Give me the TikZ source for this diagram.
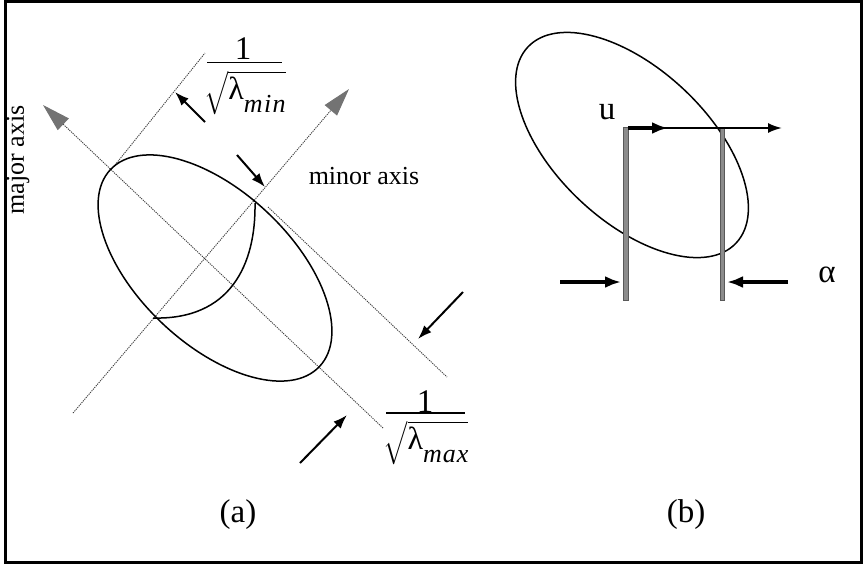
\documentclass[tikz,border=0pt]{standalone}
\usepackage{amsmath}
\usepackage{fontspec}
\setmainfont{Liberation Serif}
\usetikzlibrary{arrows.meta}

\newcommand{\lamsym}{\text{\fontsize{16}{16}\selectfont λ}}

\begin{document}
\begin{tikzpicture}[x=0.5pt,y=-0.5pt,font=\fontsize{13}{15}\selectfont,
  guide/.style={black!75,line width=0.45pt,dash pattern=on 0.6pt off 0.5pt},
  axisarrow/.style={guide,-{Triangle[length=14pt,width=8pt,color=black!55,fill=black!55]}},
  outline/.style={line width=0.75pt},
  dimarrow/.style={line width=1pt,-{Latex[length=7pt,width=5pt]}},
  pusharrow/.style={line width=1.8pt,-{Latex[length=8pt,width=6pt]}},
  wall/.style={fill=black!45,draw=black!65,line width=0.3pt},
  fracbar/.style={line width=0.8pt},
  biglabel/.style={font=\fontsize{16.5}{19}\selectfont}]
\useasboundingbox (0,0) rectangle (863,564);
\draw[line width=1.5pt] (5.5,1.5) rectangle (861.5,562.5);
% (a)
\coordinate (majtail) at (383,428);
\coordinate (majtip) at (43,105);
\coordinate (mintail) at (73,413);
\coordinate (mintip) at (349,89);
\coordinate (A) at (111,170);
\coordinate (B) at (255,203);
\coordinate (E) at (153,318);
\draw[axisarrow] (majtail) -- (majtip);
\draw[axisarrow] (mintail) -- (mintip);
\draw[guide] (A) -- (205,53);
\draw[guide] (268,207) -- (447,377);
\draw[outline,rotate around={-43.3:(215,268)}] (215,268) ellipse [x radius=143.6,y radius=76.4];
\draw[outline] (B) .. controls (256,265) and (230,320) .. (E);
\coordinate (d1s) at (205,122);
\coordinate (d1e) at (175,92);
\coordinate (d2s) at (237,155);
\coordinate (d2e) at (265,187);
\coordinate (d3s) at (463,292);
\coordinate (d3e) at (418,339);
\coordinate (d4s) at (300,463);
\coordinate (d4e) at (347,415);
\draw[dimarrow] (d1s) -- (d1e);
\draw[dimarrow] (d2s) -- (d2e);
\draw[dimarrow] (d3s) -- (d3e);
\draw[dimarrow] (d4s) -- (d4e);
\node (majlabel) [rotate=90] at (18,160) {major axis};
\node (minlabel) at (364,176) {minor axis};
\node (minnum) [biglabel] at (243,49) {1};
\draw[fracbar] (207,62.5) -- (282,62.5);
\node (minden) at (245,93) {$\sqrt{\lamsym\raisebox{-0.5em}{\textit{m\kern.05em i\kern.05em n}}}$};
\node (maxnum) [biglabel] at (425,402) {1};
\draw[fracbar] (386,413) -- (465,413);
\node (maxden) at (426,443) {$\sqrt{\lamsym\raisebox{-0.5em}{\textit{m\kern.04em a\kern.04em x}}}$};
\node (capa) [biglabel] at (238,515) {(a)};
% (b)
\draw[outline,rotate around={-43.3:(632,145)}] (632,145) ellipse [x radius=143,y radius=76];
\draw[wall] (623,127) rectangle (628,300);
\draw[wall] (720,127) rectangle (724.5,300);
\coordinate (ul) at (628,128);
\coordinate (um) at (668,128);
\coordinate (ur) at (782,128);
\draw[dimarrow] (ul) -- (ur);
\draw[pusharrow] (ul) -- (um);
\coordinate (pl) at (560,282);
\coordinate (plt) at (621,282);
\coordinate (pr) at (788,282);
\coordinate (prt) at (727,282);
\draw[pusharrow] (pl) -- (plt);
\draw[pusharrow] (pr) -- (prt);
\node (u) [biglabel] at (607,112) {u};
\node (alpha) [biglabel] at (827,275) {α};
\node (capb) [biglabel] at (686,515) {(b)};
\end{tikzpicture}
\end{document}
